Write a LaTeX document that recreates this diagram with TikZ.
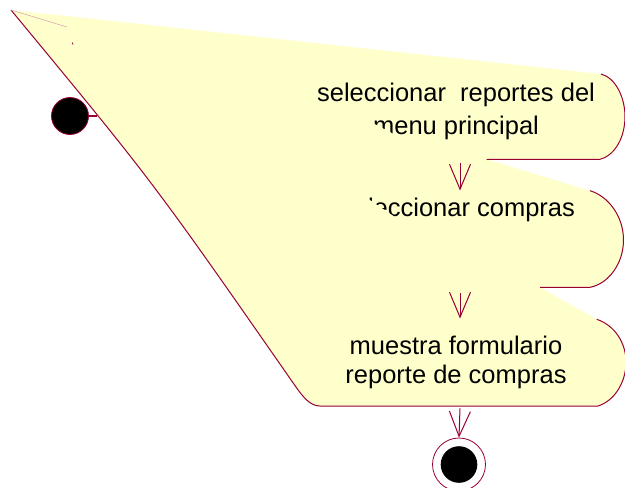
\documentclass[tikz,border=0pt]{standalone}
\usepackage{fontspec}
\setmainfont{Liberation Sans}
\usetikzlibrary{arrows.meta}
\definecolor{roseyellow}{RGB}{255,255,204}
\definecolor{rosered}{RGB}{153,0,51}
\begin{document}
\begin{tikzpicture}[x=1pt,y=-1pt,
  edge/.style={draw=rosered,line width=1pt},
  flow/.style={draw=rosered,line width=1pt,-{Straight Barb[length=25pt,width=21pt,line width=1pt]}},
  acttext/.style={font=\fontsize{25.5}{33}\selectfont,inner sep=0pt,align=center,text=black},
  cover/.style={fill=roseyellow}]
\useasboundingbox (0,0) rectangle (625,488);
% glitched activity shape (fill)
\fill[roseyellow] (11,10) -- (601,74)
  .. controls (616,78) and (625,98) .. (625,116.5)
  .. controls (625,136) and (616,155) .. (600,159.3)
  -- (486.7,159.3) -- (590,190.7)
  .. controls (608,196) and (623.5,216) .. (623.5,240)
  .. controls (623.5,264) and (608,284) .. (590,287.3)
  -- (540,287.3) -- (596.7,319.3)
  .. controls (614,325) and (626,342) .. (626,362)
  .. controls (626,383) and (614,401) .. (598,406)
  -- (320,406) .. controls (310,406) and (303,397) .. (295,385.6)
  .. controls (153,181.7) .. (11,10) -- cycle;
% stroked outline parts
\draw[edge] (601,74)
  .. controls (616,78) and (625,98) .. (625,116.5)
  .. controls (625,136) and (616,155) .. (600,159.3)
  -- (486.7,159.3);
\draw[edge] (590,190.7)
  .. controls (608,196) and (623.5,216) .. (623.5,240)
  .. controls (623.5,264) and (608,284) .. (590,287.3)
  -- (540,287.3);
\draw[edge] (596.7,319.3)
  .. controls (614,325) and (626,342) .. (626,362)
  .. controls (626,383) and (614,401) .. (598,406)
  -- (320,406) .. controls (310,406) and (303,397) .. (295,385.6)
  .. controls (153,181.7) .. (11,10);
\draw[rosered!35,line width=0.6pt] (11,10) -- (67,27);
\draw[rosered,line width=0.8pt] (72.3,42.5) -- (73,44.5);
% texts
\node[acttext,anchor=north] (a1) at (456,82.5) {seleccionar\ \ reportes del\\menu principal};
\node[acttext,anchor=base] (a2) at (458,216.7) {seleccionar compras};
\node[acttext,anchor=north,font=\fontsize{25.5}{29}\selectfont] (a3) at (456,335.5) {muestra formulario\\reporte de compras};
% partial occlusions
\fill[cover] (345,108.2) -- (395.5,135) -- (395.5,140) -- (345,140) -- cycle;
\fill[cover] (340,179.6) -- (396,217.7) -- (396,224) -- (340,224) -- cycle;
% initial and final states
\node[circle,fill=black,draw=rosered,line width=0.8pt,minimum size=37pt,inner sep=0pt] (init) at (70,116) {};
\coordinate (join) at (97,116);
\draw[rosered,line width=1.5pt] (init.east) -- (join);
\node[circle,draw=rosered,fill=white,line width=0.8pt,minimum size=53pt,inner sep=0pt] (final) at (459,464.5) {};
\node[circle,fill=black,minimum size=36.6pt,inner sep=0pt] (finalin) at (final) {};
% transitions
\coordinate (f1s) at (460,163);
\coordinate (f1e) at (460,190.5);
\coordinate (f2s) at (460,293);
\coordinate (f2e) at (460,318.5);
\coordinate (f3s) at (460,408.3);
\draw[flow] (f1s) -- (f1e);
\draw[flow] (f2s) -- (f2e);
\draw[flow] (f3s) -- (final.north);
\end{tikzpicture}
\end{document}
